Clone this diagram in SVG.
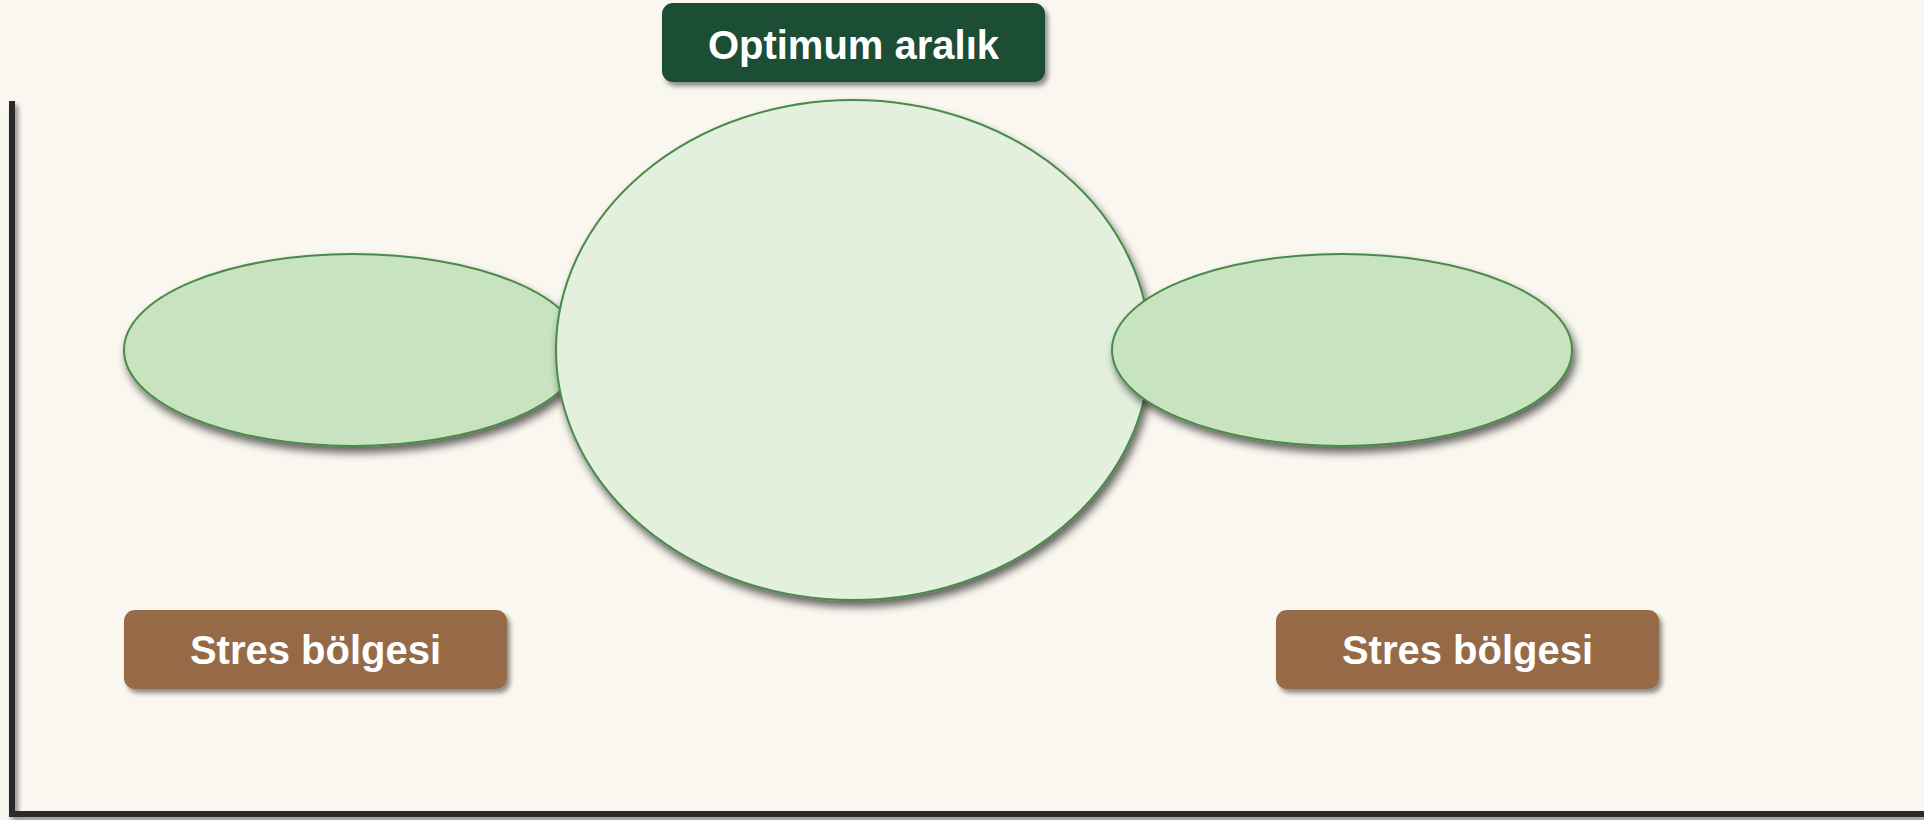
<svg xmlns="http://www.w3.org/2000/svg" width="1924" height="820" viewBox="0 0 1924 820">
<defs>
<filter id="sh" x="-10%" y="-10%" width="130%" height="130%">
<feGaussianBlur in="SourceAlpha" stdDeviation="2.5"/>
<feOffset dx="3" dy="4" result="b"/>
<feComponentTransfer><feFuncA type="linear" slope="0.45"/></feComponentTransfer>
<feMerge><feMergeNode/><feMergeNode in="SourceGraphic"/></feMerge>
</filter>
<filter id="esh" x="-10%" y="-10%" width="130%" height="130%">
<feGaussianBlur in="SourceAlpha" stdDeviation="4"/>
<feOffset dx="3" dy="6" result="b"/>
<feComponentTransfer><feFuncA type="linear" slope="0.6"/></feComponentTransfer>
<feMerge><feMergeNode/><feMergeNode in="SourceGraphic"/></feMerge>
</filter>
</defs>
<style>
.lbl{font-family:"Liberation Sans",Arial,sans-serif;font-weight:bold;font-size:40px;fill:#ffffff;text-anchor:middle}
.side{fill:#c8e3c0;stroke:#4a8a48;stroke-width:2}
.mid{fill:#e2f0dd;stroke:#4a8a48;stroke-width:2}
.axis{stroke:#2b2b2b;stroke-width:6;fill:none}
</style>
<rect width="1924" height="820" fill="#faf7f0"/>
<g id="axes" filter="url(#sh)">
<path class="axis" d="M12,101 V814 H1924"/>
</g>
<g id="stress-left-ellipse"><ellipse class="side" cx="353" cy="350" rx="229" ry="96" filter="url(#esh)"/></g>
<g id="optimum-ellipse"><ellipse class="mid" cx="853" cy="350" rx="297" ry="250" filter="url(#esh)"/></g>
<g id="stress-right-ellipse"><ellipse class="side" cx="1342" cy="350" rx="230" ry="96" filter="url(#esh)"/></g>
<g id="optimum-label">
<rect x="662" y="3" width="383" height="79" rx="11" fill="#1e4d36" filter="url(#sh)"/>
<text class="lbl" x="853.5" y="58.5">Optimum aralık</text>
</g>
<g id="stress-left-label">
<rect x="124" y="610" width="383" height="79" rx="11" fill="#966a46" filter="url(#sh)"/>
<text class="lbl" x="315.5" y="663.5">Stres bölgesi</text>
</g>
<g id="stress-right-label">
<rect x="1276" y="610" width="383" height="79" rx="11" fill="#966a46" filter="url(#sh)"/>
<text class="lbl" x="1467.5" y="663.5">Stres bölgesi</text>
</g>
<g id="connectors"/>
</svg>
